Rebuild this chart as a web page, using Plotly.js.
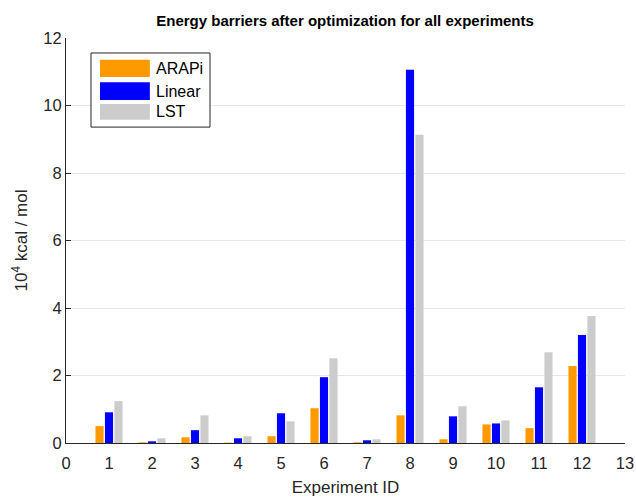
<!DOCTYPE html>
<html>
<head>
<meta charset="utf-8">
<script src="https://cdn.plot.ly/plotly-3.0.1.min.js"></script>
<style>html,body{margin:0;padding:0;background:#fff;}#chart{width:636px;height:497px;}</style>
</head>
<body>
<div id="chart"></div>
<script>
const experiments = [1, 2, 3, 4, 5, 6, 7, 8, 9, 10, 11, 12];
const arapi  = [0.50, 0.02, 0.17, 0.01, 0.20, 1.03, 0.02, 0.82, 0.11, 0.55, 0.44, 2.28];
const linear = [0.91, 0.05, 0.38, 0.14, 0.88, 1.95, 0.08, 11.06, 0.79, 0.58, 1.65, 3.20];
const lst    = [1.24, 0.14, 0.82, 0.20, 0.64, 2.51, 0.11, 9.13, 1.09, 0.67, 2.69, 3.76];
const seriesNames = ['ARAPi', 'Linear', 'LST'];
const seriesColors = ['#FF9900', '#0000FF', '#CCCCCC'];
const xTicks = [0,1,2,3,4,5,6,7,8,9,10,11,12,13];
const yTicks = [0,2,4,6,8,10,12];

const allSeries = [arapi, linear, lst];
const traces = allSeries.map((vals, i) => ({
  type: 'bar',
  x: experiments,
  y: vals,
  name: seriesNames[i],
  marker: {color: seriesColors[i], line: {width: 0}},
  hoverinfo: 'x+y+name'
}));

// custom legend (MATLAB-style wide swatches)
const legY = [[0.904, 0.946], [0.847, 0.891], [0.798, 0.837]];
const shapes = [{
  type: 'rect', xref: 'paper', yref: 'paper',
  x0: 0.0447, x1: 0.2576, y0: 0.780, y1: 0.963,
  line: {color: '#262626', width: 1}, fillcolor: '#ffffff', layer: 'above'
}];
const annotations = [];
seriesNames.forEach((n, i) => {
  shapes.push({
    type: 'rect', xref: 'paper', yref: 'paper',
    x0: 0.0608, x1: 0.150, y0: legY[i][0], y1: legY[i][1],
    line: {width: 0}, fillcolor: seriesColors[i], layer: 'above'
  });
  annotations.push({
    xref: 'paper', yref: 'paper', x: 0.157, y: (legY[i][0] + legY[i][1]) / 2,
    xanchor: 'left', yanchor: 'middle', showarrow: false, text: n,
    font: {family: 'Liberation Sans, Arial, sans-serif', size: 16, color: '#000000'}
  });
});

const layout = {
  width: 636, height: 497,
  margin: {l: 66, r: 11, t: 38, b: 54},
  paper_bgcolor: '#ffffff', plot_bgcolor: '#ffffff',
  font: {family: 'Liberation Sans, Arial, sans-serif', size: 16, color: '#262626'},
  title: {
    text: '<b>Energy barriers after optimization for all experiments</b>',
    font: {family: 'Liberation Sans, Arial, sans-serif', size: 15, color: '#000000'},
    x: 0.5425, xanchor: 'center', xref: 'container',
    y: 0.958, yanchor: 'middle', yref: 'container'
  },
  showlegend: false,
  barmode: 'group', bargap: 0.34, bargroupgap: 0.14,
  xaxis: {
    range: [0, 13], tickvals: xTicks, ticktext: xTicks.map(String),
    showgrid: false, zeroline: false,
    showline: true, linecolor: '#262626', linewidth: 1,
    ticks: '', tickfont: {size: 16.5, color: '#262626'},
    ticklabelstandoff: 5,
    title: {text: 'Experiment ID', font: {size: 17, color: '#262626'}, standoff: 10}
  },
  yaxis: {
    range: [0, 12], tickvals: yTicks, ticktext: yTicks.map(String),
    showgrid: true, gridcolor: '#e6e6e6', gridwidth: 1, zeroline: false,
    showline: true, linecolor: '#262626', linewidth: 1,
    ticks: 'inside', ticklen: 5, tickcolor: '#262626',
    tickfont: {size: 16.5, color: '#262626'},
    title: {text: '10<sup>4</sup> kcal / mol', font: {size: 17, color: '#262626'}, standoff: 11}
  },
  shapes: shapes,
  annotations: annotations
};

Plotly.newPlot('chart', traces, layout, {displayModeBar: false, staticPlot: true});
</script>
</body>
</html>
